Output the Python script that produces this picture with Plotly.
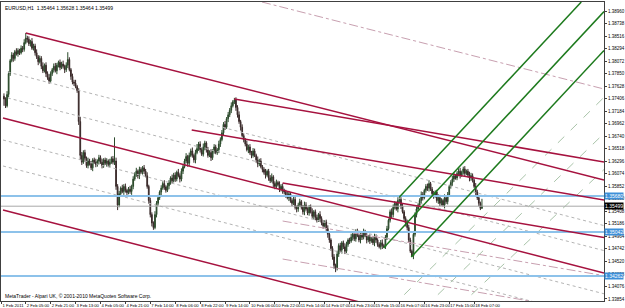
import plotly.graph_objects as go

BASE = 1.3
PIP = 0.0001

# ---- price data (H1 bars, values in pips above 1.3000) ----
first_open = 745
closes = [
740,728,748,785,808,818,812,824,820,826,
822,830,828,840,848,846,838,842,830,834,
822,815,806,812,798,790,800,785,778,772,
785,792,798,790,800,805,796,802,798,792,
800,810,792,780,770,768,762,755,700,640,
628,645,635,622,630,625,618,632,628,624,
630,636,628,622,632,626,630,624,628,634,
628,630,585,552,572,582,576,585,578,574,
580,576,585,598,606,612,604,615,610,618,
612,604,585,560,535,520,512,535,555,565,
575,582,590,584,578,586,592,600,595,605,
598,610,604,598,612,620,630,638,626,640,
648,640,632,645,652,660,650,642,655,662,
650,640,645,636,648,655,645,650,660,668,
680,695,690,705,712,720,728,735,738,725,
712,700,690,675,668,660,650,655,645,640,
648,640,632,625,630,620,615,610,605,612,
600,595,602,590,585,592,588,580,585,578,
575,570,565,572,560,555,562,548,545,552,
558,548,540,552,545,538,548,540,532,540,
530,525,535,528,520,515,522,510,500,490,
475,460,445,440,465,480,472,485,478,470,
482,490,488,495,500,492,505,498,490,500,
495,505,498,490,495,488,492,485,495,490,
482,478,485,480,478,495,510,525,540,535,
548,555,545,560,562,550,540,528,520,512,
490,470,462,500,535,545,552,560,570,565,
578,585,582,590,580,572,568,575,560,565,
555,560,552,565,558,570,585,592,598,604,
600,608,612,605,610,616,608,612,605,600,
604,596,585,575,565,555,546,550]
up_wick = [
5,3,6,4,3,5,4,3,6,4, 3,5,4,6,9,4,5,3,6,4, 4,6,3,5,4,7,3,5,4,6,
4,3,5,6,4,3,5,4,6,3, 5,13,4,3,5,4,6,3,4,8, 6,4,5,3,6,4,5,3,4,6,
3,5,4,6,3,4,5,3,6,4, 5,42,6,4,5,3,6,4,5,3, 4,6,3,5,4,6,3,5,4,3,
5,4,6,3,5,4,3,6,4,5, 3,5,4,6,3,5,4,3,6,4, 5,3,6,4,5,3,4,6,3,5,
4,6,3,5,8,4,5,3,6,4, 3,5,4,6,3,5,4,3,6,4, 5,4,6,3,5,4,6,3,4,5,
4,6,3,5,4,3,6,4,5,3, 5,4,3,6,4,5,3,4,6,3, 4,5,6,3,4,5,3,6,4,5,
3,4,6,5,3,4,5,6,3,4, 5,3,4,6,5,3,4,5,6,3, 4,5,3,6,4,5,3,4,6,5,
3,4,5,3,6,4,5,3,4,6, 5,3,4,6,5,3,4,5,3,6, 4,5,3,6,4,5,3,4,6,5,
3,4,5,6,3,4,5,3,4,6, 5,4,3,6,6,4,5,3,4,6, 5,4,3,6,4,5,3,4,6,5,
3,4,5,6,3,4,5,3,4,6, 5,4,3,6,4,5,3,4,6,5, 3,4,5,6,3,4,5,3,4,6,
5,4,3,6,4,5,3,13]
dn_wick = [
12,4,3,5,4,3,6,4,3,5, 4,3,5,4,3,6,4,5,3,4, 5,4,6,3,5,4,3,6,4,5,
3,4,5,3,6,4,5,3,4,6, 4,5,3,6,4,5,3,4,6,8, 5,3,6,4,5,3,4,6,3,5,
4,6,3,5,4,3,6,4,5,3, 4,5,6,9,4,5,3,6,4,5, 3,4,6,5,3,4,5,6,3,4,
5,3,4,6,5,6,4,3,5,4, 4,6,3,5,4,3,6,4,5,3, 5,4,3,6,4,5,3,4,6,5,
3,4,5,6,3,4,5,3,4,6, 5,4,3,6,4,5,3,4,6,5, 3,4,5,3,6,4,5,3,4,6,
5,4,6,3,5,4,3,6,4,5, 4,3,5,6,4,3,5,4,6,3, 5,4,3,6,5,4,3,5,4,6,
4,5,3,6,4,5,3,4,6,5, 3,4,5,6,3,4,5,3,4,6, 5,4,3,6,4,5,3,4,6,5,
4,5,6,7,4,5,3,6,4,5, 3,4,5,3,6,4,5,3,4,6, 5,4,3,6,4,5,3,4,6,5,
4,3,5,6,2,4,5,3,4,6, 5,4,3,6,4,5,3,4,6,5, 4,3,2,6,4,5,3,4,6,5,
3,4,5,6,3,4,5,3,4,6, 5,4,3,6,4,5,3,4,6,5, 3,4,5,6,3,4,5,3,4,6,
5,4,3,6,4,5,3,0]

# ---- axis labels ----
x_tick_bars = [-1.5, 14, 30, 46, 62, 78, 94, 110, 126, 142, 158, 174, 190, 206, 222, 238, 254, 270, 286, 302]
x_tick_text = ["1 Feb 2011", "2 Feb 05:00", "2 Feb 21:00", "3 Feb 13:00", "4 Feb 05:00", "4 Feb 21:00",
               "7 Feb 14:00", "8 Feb 06:00", "8 Feb 22:00", "9 Feb 14:00", "10 Feb 06:00", "10 Feb 22:00",
               "11 Feb 14:00", "14 Feb 07:00", "14 Feb 23:00", "15 Feb 15:00", "16 Feb 07:00",
               "16 Feb 23:00", "17 Feb 15:00", "18 Feb 07:00"]
y_tick_vals = [1.38960, 1.38738, 1.38516, 1.38294, 1.38072, 1.37850, 1.37628, 1.37406, 1.37184,
               1.36962, 1.36740, 1.36518, 1.36296, 1.36074, 1.35852, 1.35630, 1.35408, 1.35186,
               1.34964, 1.34742, 1.34520, 1.34298, 1.34076, 1.33854]

blue_levels = [1.35680, 1.35042, 1.34262]
bid_price = 1.35499
header = "EURUSD,H1  1.35464 1.35628 1.35464 1.35499"
footer = "MetaTrader - Alpari UK, \u00a9 2001-2010 MetaQuotes Software Corp."

# ---- drawn objects: (bar0, pips0, bar1, pips1) ----
red_lines = [
    (14, 857, 385.4, 596.4),
    (-0.6, 706.3, 385.4, 431.5),
    (-0.6, 543.2, 385.4, 268.0),
    (148, 740.0, 385.4, 628.3),
    (120.6, 685.0, 385.4, 560.9),
    (179, 591.0, 385.4, 494.2),
]
green_lines = [
    (243.8, 475.8, 385.4, 895.0),
    (254.0, 566.2, 370.8, 912.0),
    (261.6, 459.8, 385.4, 826.0),
]
green_warning = [
    (257.1, 393.0, 385.4, 743.0),
    (278.7, 393.0, 385.4, 679.0),
    (300.3, 393.0, 385.4, 615.0),
]
gray_dotted = [
    (2.5, 787.8, 385.4, 515.5),
    (2.5, 741.8, 385.4, 471.2),
    (-0.6, 667.3, 385.4, 394.6),
    (-0.6, 621.2, 385.4, 348.5),
]
pink_dashdot = [
    (179, 523.6, 385.4, 426.8),
    (179, 456.2, 385.4, 359.4),
    (165.7, 912.0, 385.4, 757.7),
]

# ---- build OHLC ----
n = len(closes)
bars = list(range(n))
opens = [first_open] + closes[:-1]
highs = [max(o, c) + u for o, c, u in zip(opens, closes, up_wick)]
lows = [min(o, c) - d for o, c, d in zip(opens, closes, dn_wick)]
px = lambda v: BASE + v * PIP

fig = go.Figure()

def add_lines(lines, color, width, dash):
    for b0, p0, b1, p1 in lines:
        fig.add_trace(go.Scatter(x=[b0, b1], y=[px(p0), px(p1)], mode="lines",
                                 line=dict(color=color, width=width, dash=dash),
                                 showlegend=False, hoverinfo="skip"))

add_lines(gray_dotted, "#B4B4B4", 1, "dot")
add_lines(pink_dashdot, "#C8A0B0", 1, "dashdot")
add_lines(green_warning, "#A9C4A9", 1, "dash")

for lvl in blue_levels:
    fig.add_trace(go.Scatter(x=[-2, 386], y=[lvl, lvl], mode="lines",
                             line=dict(color="#8DC2EA", width=2), showlegend=False, hoverinfo="skip"))
fig.add_trace(go.Scatter(x=[-2, 386], y=[bid_price, bid_price], mode="lines",
                         line=dict(color="#A8A8A8", width=1), showlegend=False, hoverinfo="skip"))

add_lines(red_lines, "#A6123F", 1.5, "solid")
add_lines(green_lines, "#1D7A1D", 1.5, "solid")

fig.add_trace(go.Candlestick(
    x=bars, open=[px(v) for v in opens], high=[px(v) for v in highs],
    low=[px(v) for v in lows], close=[px(v) for v in closes],
    increasing=dict(line=dict(color="#2B4A2B", width=1), fillcolor="#2B4A2B"),
    decreasing=dict(line=dict(color="#3A2A2A", width=1), fillcolor="#3A2A2A"),
    whiskerwidth=0, showlegend=False, hoverinfo="skip"))

ann = []
for lvl in blue_levels:
    ann.append(dict(x=1.0, xref="paper", y=lvl, yref="y", xanchor="left", yanchor="middle",
                    text="%.5f" % lvl, showarrow=False, bgcolor="#3D8FD8",
                    font=dict(size=5, color="white", family="Liberation Sans"), borderpad=0))
ann.append(dict(x=1.0, xref="paper", y=bid_price, yref="y", xanchor="left", yanchor="middle",
                text="%.5f" % bid_price, showarrow=False, bgcolor="black",
                font=dict(size=5, color="white", family="Liberation Sans"), borderpad=0))
ann.append(dict(x=0.003, xref="paper", y=0.995, yref="paper", xanchor="left", yanchor="top",
                text=header, showarrow=False, font=dict(size=5, color="black", family="Liberation Sans")))
ann.append(dict(x=0.003, xref="paper", y=0.0, yref="paper", xanchor="left", yanchor="bottom",
                text=footer, showarrow=False, font=dict(size=5, color="black", family="Liberation Sans")))

fig.update_layout(
    width=625, height=308, margin=dict(l=0, r=15, t=2, b=7),
    paper_bgcolor="white", plot_bgcolor="white",
    annotations=ann,
    xaxis=dict(range=[-1.9, 385.4], tickvals=x_tick_bars, ticktext=x_tick_text,
               showgrid=False, zeroline=False, showline=True, linecolor="#404040", mirror=True,
               ticks="outside", ticklen=2, tickcolor="#404040", tickangle=0,
               ticklabelposition="outside right",
               tickfont=dict(size=4.2, color="black", family="Liberation Sans"),
               rangeslider=dict(visible=False), fixedrange=True),
    yaxis=dict(range=[1.33818, 1.39120], side="right", tickvals=y_tick_vals,
               ticktext=["%.5f" % v for v in y_tick_vals],
               showgrid=False, zeroline=False, showline=True, linecolor="#404040", mirror=True,
               ticks="outside", ticklen=2, tickcolor="#404040",
               tickfont=dict(size=4.5, color="black", family="Liberation Sans"), fixedrange=True),
)

fig.write_html("out.html")
